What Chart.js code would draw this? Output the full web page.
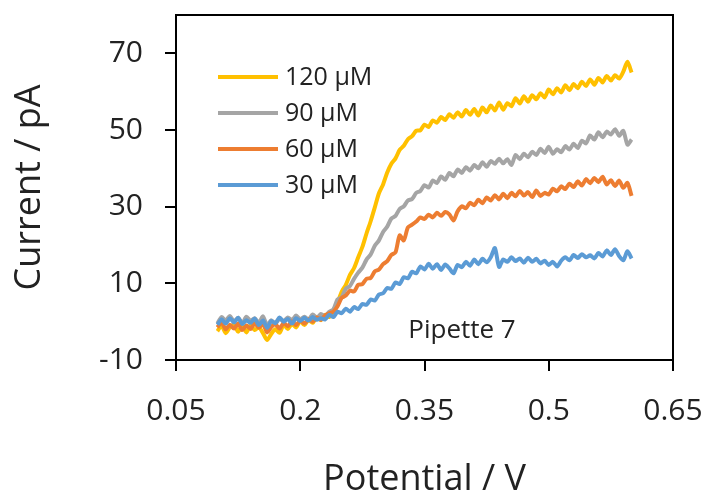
<!DOCTYPE html>
<html>
<head>
<meta charset="utf-8">
<script src="https://cdn.jsdelivr.net/npm/chart.js@4.4.1/dist/chart.umd.min.js"></script>
<style>
html,body{margin:0;padding:0;background:#fff;}
#wrap{width:710px;height:490px;}
</style>
</head>
<body>
<div id="wrap"><canvas id="c" width="710" height="490"></canvas></div>
<script>
const potentials = [0.100,0.105,0.110,0.115,0.120,0.125,0.130,0.135,0.140,0.145,
0.150,0.155,0.160,0.165,0.170,0.175,0.180,0.185,0.190,0.195,
0.200,0.205,0.210,0.215,0.220,0.225,0.230,0.235,0.240,0.245,
0.250,0.255,0.260,0.265,0.270,0.275,0.280,0.285,0.290,0.295,
0.300,0.305,0.310,0.315,0.320,0.325,0.330,0.335,0.340,0.345,
0.350,0.355,0.360,0.365,0.370,0.375,0.380,0.385,0.390,0.395,
0.400,0.405,0.410,0.415,0.420,0.425,0.430,0.435,0.440,0.445,
0.450,0.455,0.460,0.465,0.470,0.475,0.480,0.485,0.490,0.495,
0.500,0.505,0.510,0.515,0.520,0.525,0.530,0.535,0.540,0.545,
0.550,0.555,0.560,0.565,0.570,0.575,0.580,0.585,0.590,0.595,0.600];

const current120 = [-2.5,-1.0,-3.0,-1.5,-0.8,-2.6,-1.2,-2.8,-0.9,-2.2,
-1.4,-3.0,-4.8,-3.2,-2.0,-2.9,-0.8,-1.9,-0.6,-1.5,
0.2,-0.9,0.5,-0.3,1.2,0.4,1.8,1.2,3.0,5.0,
7.8,9.6,12.2,14.0,16.8,19.5,23.0,26.2,29.8,33.5,
35.8,38.9,41.2,42.6,44.8,45.9,47.6,48.4,49.8,49.9,
51.4,50.8,52.5,51.9,53.4,52.6,54.1,53.2,54.6,53.5,
55.2,54.0,55.5,53.8,55.9,54.6,56.4,55.1,57.2,55.3,
57.0,56.2,58.3,56.9,58.8,57.4,59.1,58.0,59.6,58.5,
60.6,59.3,60.9,59.8,61.7,60.4,62.0,60.9,62.6,61.5,
63.2,61.8,63.6,62.4,64.1,62.9,64.3,63.4,65.2,67.8,65.0];

const current90 = [-0.5,1.2,0.3,1.5,0.0,1.0,-0.4,1.3,0.2,0.9,
-0.3,1.4,-1.0,0.4,-0.6,0.8,0.1,1.1,0.4,1.6,
0.6,1.3,0.5,1.9,1.0,2.0,1.4,2.6,3.2,5.8,
6.4,8.6,9.3,11.2,12.8,14.1,16.2,17.5,19.8,21.2,
23.4,24.8,26.9,27.6,29.4,30.1,31.6,32.0,33.6,34.1,
35.6,35.0,36.8,36.2,37.9,37.0,38.8,37.9,39.7,38.8,
40.3,39.4,40.9,40.0,41.6,40.4,41.9,41.2,42.5,41.3,
42.4,40.9,43.5,42.4,43.8,42.9,44.3,43.5,45.1,44.0,
45.6,43.8,45.0,44.2,45.8,44.9,46.4,45.3,47.2,46.5,
48.6,47.5,49.4,48.1,49.6,48.8,50.2,48.5,49.8,46.2,47.5];

const current60 = [-1.5,-0.2,-2.0,-0.8,-1.8,-0.5,-2.2,-1.0,-1.9,-0.4,
-1.6,-0.6,-2.8,-1.4,-0.7,-1.8,-0.3,-1.2,0.1,-0.9,
0.3,-0.5,0.6,0.0,1.1,0.5,1.6,2.2,2.6,4.0,
6.2,6.8,8.1,7.9,9.6,9.8,11.2,11.4,13.1,13.6,
15.0,15.8,17.4,18.1,22.5,21.2,24.6,25.3,26.1,27.2,
26.8,27.9,27.2,28.4,27.6,28.6,28.0,26.4,28.8,30.1,
29.6,31.0,30.4,31.8,30.9,32.4,31.6,33.0,31.9,33.4,
32.2,33.6,32.7,34.1,32.9,33.8,32.5,34.2,32.8,33.6,
33.2,34.7,34.0,35.3,34.6,36.0,35.1,36.6,35.5,37.2,
36.1,37.5,36.4,37.8,35.8,36.9,35.4,36.8,34.9,36.2,32.8];

const current30 = [-0.8,0.6,-0.5,0.9,-0.2,1.0,-0.6,0.4,-0.3,0.8,
-0.9,0.3,-1.6,0.2,-0.4,1.1,0.0,0.7,-0.5,0.9,
0.2,1.0,0.3,1.2,0.5,0.9,0.6,1.8,1.2,2.6,
2.2,3.4,2.6,3.8,3.3,4.6,4.4,5.8,5.5,7.1,
7.4,8.8,8.6,10.2,9.8,11.6,11.3,13.0,12.6,14.4,
13.6,15.1,13.8,15.0,13.5,14.9,13.9,12.6,14.8,14.2,
15.6,14.6,16.2,15.0,16.4,15.5,16.8,19.2,14.3,16.2,
15.6,16.8,15.8,16.5,15.4,16.7,15.6,16.4,15.2,15.9,
14.8,15.6,14.4,15.9,16.8,16.0,17.4,16.6,17.6,16.8,
17.3,16.5,17.9,17.0,18.6,17.4,18.9,17.1,16.0,18.4,16.5];

const seriesLabels = ['120 \u00b5M','90 \u00b5M','60 \u00b5M','30 \u00b5M'];
const seriesColors = ['#FFC000','#A5A5A5','#ED7D31','#5B9BD5'];
const xTickValues = [0.05,0.2,0.35,0.5,0.65];
const yTickValues = [-10,10,30,50,70];
const annotationText = 'Pipette 7';

const FONT = '"Open Sans", "DejaVu Sans", sans-serif';
const allSeries = [current120, current90, current60, current30];

const datasets = allSeries.map((vals, k) => ({
  label: seriesLabels[k],
  data: potentials.map((p, i) => ({x: p, y: vals[i]})),
  borderColor: seriesColors[k],
  backgroundColor: seriesColors[k],
  borderWidth: 4,
  pointRadius: 0,
  tension: 0.25,
  fill: false
}));
datasets.reverse();

const framePlugin = {
  id: 'frame',
  afterDraw(chart) {
    const {ctx, chartArea: a} = chart;
    ctx.save();
    ctx.strokeStyle = '#000';
    ctx.lineWidth = 2;
    ctx.strokeRect(a.left, a.top, a.right - a.left, a.bottom - a.top);
    const lx0 = 218, lx1 = 278, ly0 = 77, dy = 36;
    ctx.font = '25px ' + FONT;
    ctx.textBaseline = 'middle';
    ctx.textAlign = 'left';
    seriesLabels.forEach((lab, k) => {
      const y = ly0 + k * dy;
      ctx.strokeStyle = seriesColors[k];
      ctx.lineWidth = 4;
      ctx.beginPath();
      ctx.moveTo(lx0, y);
      ctx.lineTo(lx1, y);
      ctx.stroke();
      ctx.fillStyle = '#222';
      ctx.fillText(lab, lx1 + 7, y + 1);
    });
    ctx.font = '26px ' + FONT;
    ctx.textAlign = 'center';
    ctx.fillStyle = '#222';
    ctx.fillText(annotationText, 462, 331);
    ctx.restore();
  }
};

function noPad(s) { s.paddingTop = 0; s.paddingBottom = 0; s.paddingLeft = 0; s.paddingRight = 0; }

new Chart(document.getElementById('c'), {
  type: 'line',
  data: { datasets },
  options: {
    responsive: false,
    animation: false,
    devicePixelRatio: 1,
    layout: { autoPadding: false, padding: { top: 15, right: 37, left: 0, bottom: 0 } },
    plugins: { legend: { display: false }, tooltip: { enabled: false } },
    scales: {
      x: {
        type: 'linear',
        min: 0.05, max: 0.65,
        afterFit(s) { s.height = 130; noPad(s); },
        afterBuildTicks(s) { s.ticks = xTickValues.map(v => ({value: v})); },
        grid: { drawOnChartArea: false, drawTicks: true, tickLength: 11, color: '#000', lineWidth: 2 },
        border: { display: true, color: '#000', width: 2 },
        ticks: {
          font: { family: FONT, size: 30 }, color: '#222', padding: 22,
          maxRotation: 0, autoSkip: false,
          callback: v => String(+(+v).toFixed(2))
        },
        title: { display: true, text: 'Potential / V', font: { family: FONT, size: 36, lineHeight: 0.55 }, color: '#222', padding: { top: 0, bottom: 0 } }
      },
      y: {
        type: 'linear',
        min: -10, max: 80,
        afterFit(s) { s.width = 176; noPad(s); },
        afterBuildTicks(s) { s.ticks = yTickValues.map(v => ({value: v})); },
        grid: { drawOnChartArea: false, drawTicks: true, tickLength: 11, color: '#000', lineWidth: 2 },
        border: { display: true, color: '#000', width: 2 },
        ticks: { font: { family: FONT, size: 30 }, color: '#222', padding: 22, autoSkip: false,
          callback: v => String(v) },
        title: { display: true, text: 'Current / pA', font: { family: FONT, size: 36 }, color: '#222', padding: { top: 8, bottom: 0 } }
      }
    }
  },
  plugins: [framePlugin]
});
</script>
</body>
</html>
